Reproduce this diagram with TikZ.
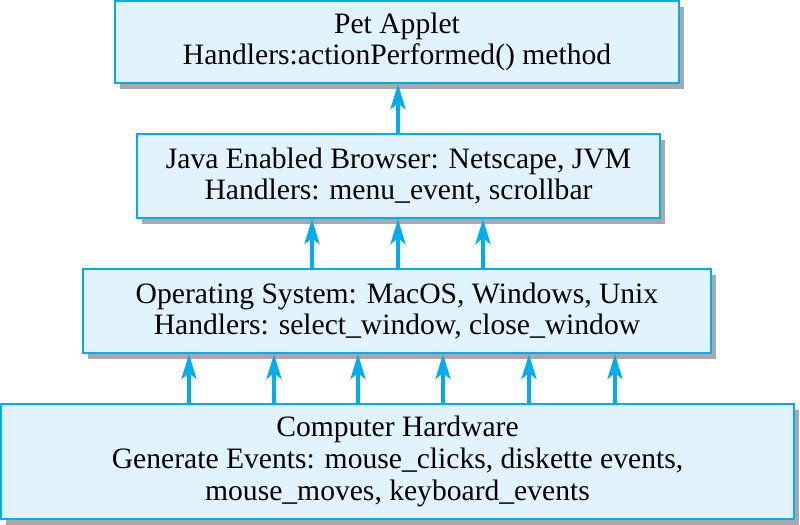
\documentclass[tikz,border=0pt]{standalone}
\usepackage{fontspec}
\setmainfont{Liberation Serif}
\usetikzlibrary{arrows.meta,shadows}

\definecolor{layerline}{HTML}{00AEEF}
\definecolor{layerfill}{HTML}{E1F3FC}
\definecolor{layershadow}{HTML}{A7A9AC}

\tikzset{
  layer/.style={draw=layerline, fill=layerfill, line width=1pt, align=center,
    inner sep=0pt, font=\fontsize{14.8}{15.8}\selectfont,
    drop shadow={shadow xshift=2.6pt, shadow yshift=-2.8pt, fill=layershadow, opacity=1}},
  flow/.style={draw=layerline, line width=2pt, -{Stealth[length=12.5pt,width=7.5pt,inset=3pt]}}
}

\begin{document}
\begin{tikzpicture}[x=0.5pt,y=-0.5pt]

\useasboundingbox (0,0) rectangle (800,525);

\node(applet) at (397,42) [layer, minimum width=282pt, minimum height=41pt]
  {Pet Applet\\Handlers:actionPerformed() method};
\node(browser) at (398.5,176) [layer, minimum width=261.5pt, minimum height=42pt]
  {Java Enabled Browser: Netscape, JVM\\Handlers: menu\_event, scrollbar};
\node(os) at (397,311) [layer, minimum width=314pt, minimum height=42pt]
  {Operating System: MacOS, Windows, Unix\\Handlers: select\_window, close\_window};
\node(hw) at (397.5,461.5) [layer, minimum width=396.5pt, minimum height=57.5pt]
  {Computer Hardware\\Generate Events: mouse\_clicks, diskette events,\\mouse\_moves, keyboard\_events};

\draw[flow] (browser.north -| 398,0) -- (applet.south -| 398,0);
\foreach \x in {312,398,483}
  \draw[flow] (os.north -| \x,0) -- (browser.south -| \x,0);
\foreach \x in {189,274,358,443,529,615}
  \draw[flow] (hw.north -| \x,0) -- (os.south -| \x,0);

\end{tikzpicture}
\end{document}
